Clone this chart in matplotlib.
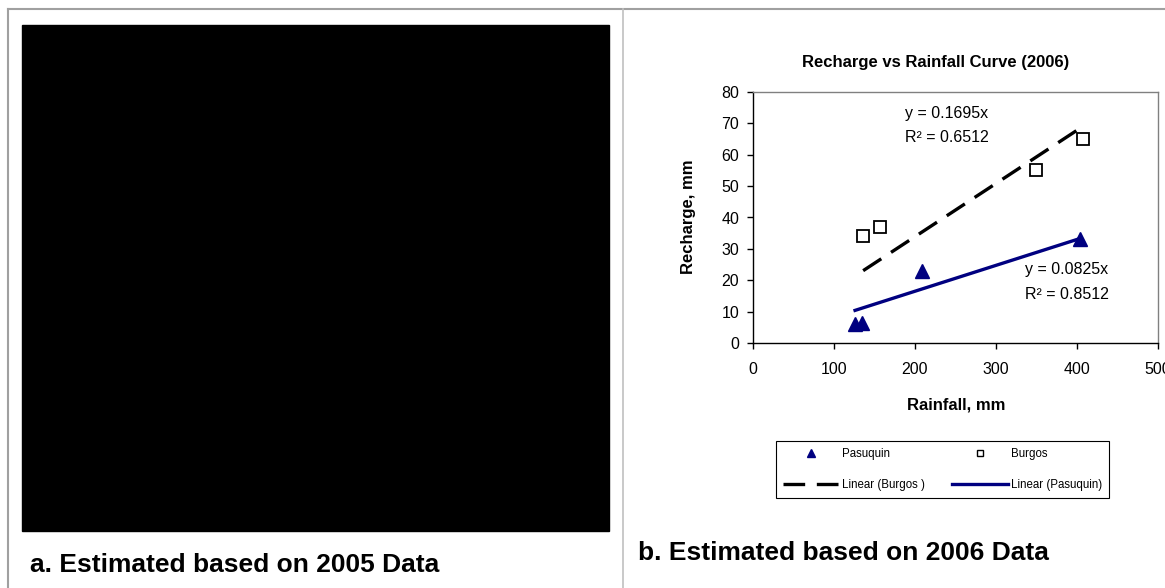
import matplotlib
matplotlib.use("Agg")
import matplotlib.pyplot as plt
from matplotlib.lines import Line2D
from matplotlib.patches import Rectangle

plt.rcParams['font.family'] = ['Liberation Sans', 'DejaVu Sans']

# data
pasuquin_rain = [126, 135, 209, 404]
pasuquin_recharge = [6, 6.5, 23, 33]
burgos_rain = [136, 157, 349, 407]
burgos_recharge = [34, 37, 55, 65]

# trendline slopes (forced through origin), from the chart labels
burgos_slope = 0.1695
burgos_r2 = 0.6512
pasuquin_slope = 0.0825
pasuquin_r2 = 0.8512

x_ticks = [0, 100, 200, 300, 400, 500]
y_ticks = [0, 10, 20, 30, 40, 50, 60, 70, 80]

W, H = 1165, 588
NAVY = '#000080'


def fx(px):
    return px / W


def fy(py):
    return 1 - py / H


fig = plt.figure(figsize=(W / 100, H / 100), dpi=100)

# table borders
fig.add_artist(Line2D([fx(8), 1], [fy(9), fy(9)], color='#a0a0a0', lw=1.5,
                      transform=fig.transFigure))
fig.add_artist(Line2D([fx(8), fx(8)], [fy(9), 0], color='#a0a0a0', lw=1.5,
                      transform=fig.transFigure))
fig.add_artist(Line2D([fx(623), fx(623)], [fy(9), 0], color='#c0c0c0', lw=1.2,
                      transform=fig.transFigure))

# panel a: blacked out image
fig.add_artist(Rectangle((fx(22), fy(531)), fx(609) - fx(22), fy(25) - fy(531),
                         color='black', transform=fig.transFigure))
fig.text(fx(30), fy(572), 'a. Estimated based on 2005 Data', fontsize=19,
         fontweight='bold', ha='left', va='baseline')

# panel b: chart
ax = fig.add_axes([fx(753), fy(343), fx(1158) - fx(753), fy(92) - fy(343)])

ax.plot(pasuquin_rain, pasuquin_recharge, ls='none', marker='^', ms=10,
        color=NAVY, zorder=3)
ax.plot(burgos_rain, burgos_recharge, ls='none', marker='s', ms=8,
        mfc='white', mec='black', mew=1.3, zorder=3)

bx = [min(burgos_rain), max(burgos_rain)]
ax.plot(bx, [burgos_slope * v for v in bx], color='black', lw=2.4,
        dashes=(6.5, 3.5))
px = [min(pasuquin_rain), max(pasuquin_rain)]
ax.plot(px, [pasuquin_slope * v for v in px], color=NAVY, lw=2.4)

ax.text(239, 73.2, 'y = %.4fx' % burgos_slope, fontsize=11.5, ha='center', va='center')
ax.text(239, 65.5, 'R² = %.4f' % burgos_r2, fontsize=11.5, ha='center', va='center')
ax.text(387, 23.3, 'y = %.4fx' % pasuquin_slope, fontsize=11.5, ha='center', va='center')
ax.text(388, 15.3, 'R² = %.4f' % pasuquin_r2, fontsize=11.5, ha='center', va='center')

ax.set_xlim(0, 500)
ax.set_ylim(0, 80)
ax.set_xticks(x_ticks)
ax.set_yticks(y_ticks)
ax.tick_params(direction='out', length=4, width=1, labelsize=11.5)
ax.tick_params(axis='x', pad=10)
ax.tick_params(axis='y', pad=6)
for s in ['left', 'bottom']:
    ax.spines[s].set_color('black')
    ax.spines[s].set_linewidth(1)
for s in ['top', 'right']:
    ax.spines[s].set_color('#808080')
    ax.spines[s].set_linewidth(1)

fig.text(fx(936), fy(62), 'Recharge vs Rainfall Curve (2006)', fontsize=12,
         fontweight='bold', ha='center', va='center')
fig.text(fx(956), fy(405), 'Rainfall, mm', fontsize=12, fontweight='bold',
         ha='center', va='center')
fig.text(fx(688), fy(217), 'Recharge, mm', fontsize=12, fontweight='bold',
         ha='center', va='center', rotation=90)

handles = [
    Line2D([], [], ls='none', marker='^', ms=5.5, color=NAVY),
    Line2D([], [], color='black', lw=2.4, dashes=(6.5, 3.5)),
    Line2D([], [], ls='none', marker='s', ms=4.5, mfc='white', mec='black', mew=1),
    Line2D([], [], color=NAVY, lw=2.4),
]
labels = ['Pasuquin', 'Linear (Burgos )', 'Burgos', 'Linear (Pasuquin)']
leg = ax.legend(handles, labels, loc='center', ncol=2,
                bbox_to_anchor=(fx(942.5), fy(469.5)), bbox_transform=fig.transFigure,
                fontsize=8.3, handlelength=4.8, handletextpad=0.3,
                columnspacing=2.4, labelspacing=1.6, borderpad=0.6,
                fancybox=False, framealpha=1, edgecolor='black')
leg.get_frame().set_linewidth(0.8)

fig.text(fx(638), fy(560), 'b. Estimated based on 2006 Data', fontsize=19,
         fontweight='bold', ha='left', va='baseline')

fig.savefig('out.png', dpi=100)
